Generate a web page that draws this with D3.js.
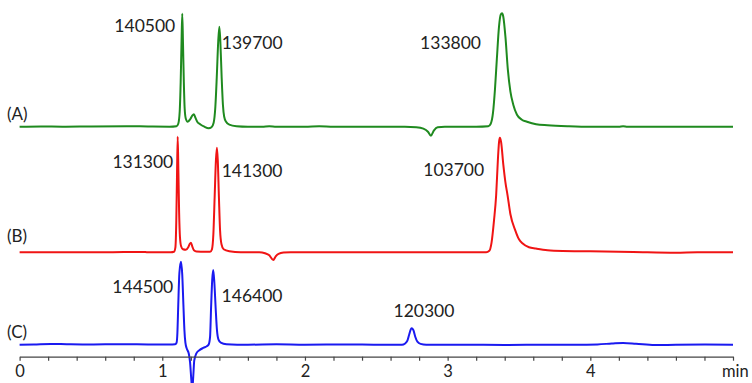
<!DOCTYPE html>
<html>
<head>
<meta charset="utf-8">
<script src="https://cdn.jsdelivr.net/npm/d3@7"></script>
<style>
  body { margin: 0; background: #fff; }
  svg { display: block; }
  text { font-family: Lato, "Open Sans", sans-serif; fill: #222; }
</style>
</head>
<body>
<svg id="chart" width="752" height="383"></svg>
<script>
// ----------------------
// data: [time (min), signal]
// ----------------------
const traceA = [
  [0, 0], [0.15, 0.3], [0.3, 0], [0.5, 0.3], [0.75, 0.5], [0.9, 0.2], [1.05, 0],
  [1.100, 0.5], [1.112, 3], [1.122, 15], [1.129, 45], [1.135, 85], [1.140, 113],
  [1.145, 85], [1.151, 45], [1.157, 18], [1.165, 8], [1.178, 5], [1.198, 8],
  [1.210, 11], [1.222, 12.5], [1.232, 9], [1.245, 5], [1.265, 2.5], [1.295, 0],
  [1.325, -1.5], [1.345, -0.5], [1.360, 4], [1.372, 20], [1.382, 50], [1.392, 85],
  [1.400, 100], [1.407, 85], [1.416, 50], [1.425, 22], [1.434, 10], [1.447, 5],
  [1.47, 2], [1.52, 0.5], [1.6, 0], [1.7, 0], [1.75, 0.5], [1.8, 0], [2.0, 0],
  [2.1, 0.4], [2.2, 0], [2.5, 0], [2.7, 0], [2.78, -0.5], [2.83, -2], [2.862, -5],
  [2.883, -9], [2.903, -4], [2.93, -0.5], [2.98, 0], [3.2, 0], [3.285, 0.5],
  [3.302, 3], [3.318, 14], [3.332, 38], [3.345, 68], [3.360, 100], [3.372, 112],
  [3.381, 113.4], [3.390, 110], [3.405, 90], [3.422, 57], [3.44, 35], [3.46, 22],
  [3.486, 12], [3.52, 7], [3.556, 5], [3.62, 2.5], [3.70, 1.5], [3.85, 0.5],
  [4.0, 0], [4.2, 0], [4.23, 0.5], [4.26, 0], [4.5, 0], [4.7, 0], [5.0, 0]
];

const traceB = [
  [0, 0], [0.3, 0], [0.6, 0], [0.86, 0.4], [0.9, 0], [1.06, 0], [1.082, 0.5],
  [1.092, 5], [1.098, 30], [1.103, 75], [1.108, 115.6], [1.113, 80], [1.118, 40],
  [1.124, 15], [1.132, 6], [1.145, 3], [1.165, 2.5], [1.182, 5], [1.193, 8.5],
  [1.201, 9.6], [1.210, 6], [1.222, 2], [1.24, 0.8], [1.3, 0.5], [1.335, 0.5],
  [1.348, 3], [1.358, 18], [1.367, 55], [1.376, 92], [1.383, 104.6], [1.389, 92],
  [1.397, 55], [1.405, 22], [1.415, 8], [1.43, 3], [1.47, 1], [1.55, 0], [1.68, 0],
  [1.72, -1], [1.75, -3], [1.778, -7.7], [1.795, -4], [1.815, -1.5], [1.85, -0.3],
  [1.9, 0], [2.5, 0], [3.0, 0], [3.27, 0], [3.292, 1.5], [3.308, 10], [3.325, 32],
  [3.340, 57], [3.352, 92], [3.360, 110], [3.366, 114.6], [3.375, 110], [3.390, 88],
  [3.405, 70], [3.420, 57], [3.44, 38], [3.474, 22], [3.5, 13], [3.526, 8.7],
  [3.57, 5], [3.619, 3.7], [3.7, 2], [3.806, 1.3], [4.0, 1], [4.3, 0.3],
  [4.6, -0.4], [4.75, 0], [5.0, 0]
];

const traceC = [
  [0, 0], [0.1, 0.3], [0.22, 0.8], [0.33, 0.5], [0.5, 0.2], [0.7, 0.5], [0.9, 0.3],
  [1.05, 0.2], [1.09, 0.5], [1.100, 2], [1.106, 12], [1.112, 40], [1.120, 72],
  [1.131, 83], [1.140, 70], [1.148, 40], [1.155, 15], [1.162, 2], [1.172, -4],
  [1.186, -9], [1.195, -18], [1.203, -34], [1.210, -45], [1.217, -32], [1.224, -16],
  [1.238, -9], [1.260, -5.5], [1.290, -3], [1.312, -1.5], [1.326, 0.5], [1.335, 8],
  [1.342, 37], [1.350, 65], [1.357, 74.7], [1.365, 62], [1.374, 37], [1.383, 15],
  [1.394, 5], [1.41, 2], [1.45, 0.5], [1.6, 0], [1.8, 0.4], [2.0, 0], [2.3, 0.3],
  [2.5, 0], [2.68, 0], [2.700, 1], [2.718, 4], [2.732, 11], [2.742, 15.5],
  [2.750, 16.4], [2.760, 14.5], [2.773, 8], [2.788, 3], [2.81, 0.8], [2.85, 0],
  [3.1, 0], [3.4, -0.3], [3.7, 0], [3.9, 0], [4.05, 0.3], [4.15, 1.2], [4.23, 1.8],
  [4.32, 1], [4.45, -0.4], [4.6, 0], [4.8, 0.2], [5.0, 0]
];

// peak retention times and the printed values
const peaksA = [1.140, 1.400, 3.381];
const valuesA = [140500, 139700, 133800];
const peaksB = [1.108, 1.383, 3.366];
const valuesB = [131300, 141300, 103700];
const peaksC = [1.131, 1.357, 2.750];
const valuesC = [144500, 146400, 120300];

const traceNames = ["(A)", "(B)", "(C)"];
const xTicks = [0, 0.2, 0.4, 0.6, 0.8, 1, 1.2, 1.4, 1.6, 1.8, 2, 2.2, 2.4, 2.6, 2.8,
                3, 3.2, 3.4, 3.6, 3.8, 4, 4.2, 4.4, 4.6, 4.8, 5];
const xTickLabels = [0, 1, 2, 3, 4];
const xUnit = "min";

// ----------------------
// layout
// ----------------------
const svg = d3.select("#chart");
const x = d3.scaleLinear().domain([0, 5]).range([19.6, 733]);
const axisY = 356.7;

// label placement relative to each peak: dx from peak x, baseline y in px
const traces = [
  { name: traceNames[0], data: traceA, peaks: peaksA, values: valuesA,
    color: "#1f8a1f", base: 126.7, nameY: 120,
    labels: [{ dx: -7, anchor: "end", y: 31.7 }, { dx: 2.4, anchor: "start", y: 49.3 },
             { dx: -21, anchor: "end", y: 49 }] },
  { name: traceNames[1], data: traceB, peaks: peaksB, values: valuesB,
    color: "#f01414", base: 252.3, nameY: 241.5,
    labels: [{ dx: -4.4, anchor: "end", y: 167.7 }, { dx: 4.7, anchor: "start", y: 177.3 },
             { dx: -15.7, anchor: "end", y: 175.7 }] },
  { name: traceNames[2], data: traceC, peaks: peaksC, values: valuesC,
    color: "#1a1af0", base: 344.7, nameY: 338.3,
    labels: [{ dx: -7.7, anchor: "end", y: 293.3 }, { dx: 8.4, anchor: "start", y: 301.7 },
             { dx: 12, anchor: "middle", y: 316.7 }] }
];

traces.forEach(tr => {
  const y = d3.scaleLinear().domain([0, 100]).range([tr.base, tr.base - 100]);

  const lineGen = d3.line()
    .x(d => x(d[0]))
    .y(d => y(d[1]))
    .curve(d3.curveMonotoneX);

  svg.append("path")
    .datum(tr.data)
    .attr("fill", "none")
    .attr("stroke", tr.color)
    .attr("stroke-width", 2)
    .attr("stroke-linejoin", "round")
    .attr("d", lineGen);

  svg.append("text")
    .attr("x", 7)
    .attr("y", tr.nameY)
    .attr("font-size", 17)
    .text(tr.name);

  tr.peaks.forEach((t, i) => {
    const lay = tr.labels[i];
    svg.append("text")
      .attr("x", x(t) + lay.dx)
      .attr("y", lay.y)
      .attr("text-anchor", lay.anchor)
      .attr("font-size", 17.5)
      .text(d3.format("d")(tr.values[i]));
  });
});

// ----------------------
// x axis
// ----------------------
const xAxis = d3.axisBottom(x)
  .tickValues(xTicks)
  .tickSize(4)
  .tickSizeOuter(0)
  .tickPadding(4.5)
  .tickFormat(d => xTickLabels.find(v => Math.abs(v - d) < 1e-6) !== undefined
    ? d3.format("d")(Math.round(d)) : "");

const axisG = svg.append("g")
  .attr("transform", `translate(0,${axisY})`)
  .call(xAxis);

axisG.select(".domain").attr("stroke", "#444").attr("stroke-width", 1.3);
axisG.selectAll(".tick line").attr("stroke", "#444").attr("stroke-width", 1.2);
axisG.selectAll(".tick text")
  .attr("font-family", "Lato, 'Open Sans', sans-serif")
  .attr("font-size", 16.5)
  .attr("fill", "#222");

svg.append("text")
  .attr("x", 722)
  .attr("y", 376.7)
  .attr("font-size", 16.5)
  .text(xUnit);
</script>
</body>
</html>
